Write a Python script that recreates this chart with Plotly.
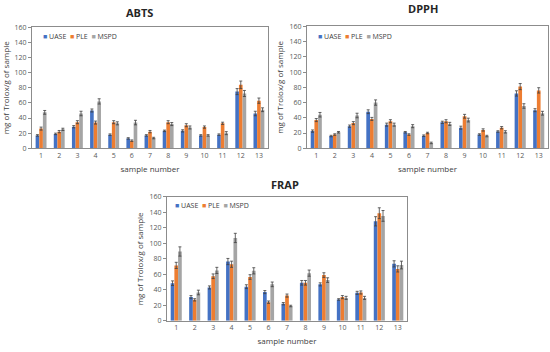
import plotly.graph_objects as go

W, H = 550, 352

samples = [str(i) for i in range(1, 14)]
series_names = ["UASE", "PLE", "MSPD"]
colors = ["#4472C4", "#ED7D31", "#A5A5A5"]
y_ticks = [0, 20, 40, 60, 80, 100, 120, 140, 160]

abts_uase = [17, 19, 28.5, 50, 18, 13, 17, 23, 23, 17, 18, 75, 46]
abts_ple = [26, 22, 34.5, 34, 34.5, 10, 22, 34.5, 30.5, 28, 33, 84, 63]
abts_mspd = [47.5, 25, 46, 62, 33, 34, 13.5, 32, 27.5, 17, 20, 72.5, 51]
abts_uase_err = [1, 1, 1.5, 2, 1, 1, 1, 1, 1.5, 1, 1, 4, 3]
abts_ple_err = [2, 1.5, 2, 2, 2, 1, 1.5, 2, 2, 1.5, 1.5, 5, 3.5]
abts_mspd_err = [2.5, 1.5, 3, 3.5, 2, 3, 1, 2, 2, 1, 2, 4, 2.5]

dpph_uase = [22.5, 16, 29, 48, 31, 21, 16.5, 34, 27, 18, 22, 72, 50]
dpph_ple = [37, 18, 33, 38.5, 35.5, 18, 20, 35.5, 42, 24, 27, 81, 76]
dpph_mspd = [44, 21, 43, 60, 31, 29, 7, 32, 37, 16, 21.5, 55.5, 46]
dpph_uase_err = [1.5, 1, 1.5, 2.5, 2, 1, 1, 1.5, 2, 1, 1, 3.5, 2]
dpph_ple_err = [2, 1, 2, 2, 2, 1, 1, 2, 2.5, 1.5, 1.5, 4, 3.5]
dpph_mspd_err = [3, 1, 3, 3.5, 2, 2, 1, 2, 2.5, 1, 1.5, 3, 2.5]

frap_uase = [48.5, 30.5, 43, 76.5, 44, 37, 22, 49, 47, 27.5, 36, 128.5, 73.5]
frap_ple = [71.5, 27, 57.5, 73, 56.5, 24, 32.5, 49, 59, 30.5, 36.5, 139, 67]
frap_mspd = [89.5, 36.5, 65, 107, 64.5, 47, 19, 61.5, 52.5, 29.5, 29.5, 135.5, 72]
frap_uase_err = [3, 2, 2, 4, 2.5, 2, 1.5, 3, 2, 1, 2, 6, 4]
frap_ple_err = [4, 1.5, 3, 4, 3, 1.5, 2, 3, 3, 2, 2, 7, 4]
frap_mspd_err = [6, 3, 4, 6, 4, 3, 1, 4, 3, 2, 2, 7, 5]

panels = [
    ("ABTS", [abts_uase, abts_ple, abts_mspd], [abts_uase_err, abts_ple_err, abts_mspd_err]),
    ("DPPH", [dpph_uase, dpph_ple, dpph_mspd], [dpph_uase_err, dpph_ple_err, dpph_mspd_err]),
    ("FRAP", [frap_uase, frap_ple, frap_mspd], [frap_uase_err, frap_ple_err, frap_mspd_err]),
]

# plot-area boxes in pixels: (left, right, top, bottom)
boxes = [(32, 268, 23, 147), (307, 548, 22, 147), (167, 407, 197, 324)]
title_pos = [(140, 8), (423, 4), (285, 184)]
legend_pos = [(41, 32), (316, 32), (173, 206)]

fig = go.Figure()
FONT = "Open Sans, Liberation Sans, sans-serif"

for i, (name, vals, errs) in enumerate(panels):
    sfx = "" if i == 0 else str(i + 1)
    for k in range(3):
        fig.add_trace(go.Bar(
            x=samples, y=vals[k], name=series_names[k],
            marker=dict(color=colors[k], line=dict(width=0)),
            error_y=dict(type="data", array=errs[k], color="#404040",
                         thickness=0.8, width=1.5),
            xaxis="x" + sfx, yaxis="y" + sfx, showlegend=False,
        ))
    l, r, t, b = boxes[i]
    xa = dict(domain=[l / W, r / W], anchor="y" + sfx, showline=True, mirror=True,
              linecolor="#8C8C8C", linewidth=1, ticks="", showgrid=False,
              tickfont=dict(size=7, color="#595959", family=FONT),
              title=dict(text="sample number", font=dict(size=8, color="#404040", family=FONT),
                         standoff=7))
    ya = dict(domain=[1 - b / H, 1 - t / H], anchor="x" + sfx, range=[0, 160],
              tickvals=y_ticks, showline=True, mirror=True, linecolor="#8C8C8C",
              linewidth=1, ticks="outside", ticklen=3, tickcolor="#8C8C8C",
              showgrid=False, zeroline=False,
              tickfont=dict(size=7, color="#595959", family=FONT),
              title=dict(text="mg of Trolox/g of sample",
                         font=dict(size=8, color="#404040", family=FONT), standoff=4))
    fig.layout["xaxis" + sfx] = xa
    fig.layout["yaxis" + sfx] = ya
    tx, ty = title_pos[i]
    fig.add_annotation(x=tx / W, y=1 - ty / H, xref="paper", yref="paper",
                       text="<b>" + name + "</b>", showarrow=False,
                       font=dict(size=11, color="#262626", family=FONT),
                       xanchor="center", yanchor="middle")
    lx, ly = legend_pos[i]
    leg_text = "  ".join(
        f"<span style='color:{colors[k]}'>■</span> {series_names[k]}" for k in range(3))
    fig.add_annotation(x=lx / W, y=1 - ly / H, xref="paper", yref="paper",
                       text=leg_text, showarrow=False,
                       font=dict(size=7, color="#404040", family=FONT),
                       xanchor="left", yanchor="middle")

fig.update_layout(
    width=W, height=H, margin=dict(l=0, r=0, t=0, b=0),
    paper_bgcolor="white", plot_bgcolor="white",
    barmode="group", bargap=0.4, bargroupgap=0.0,
    showlegend=False,
)

fig.write_html("out.html", config={"displayModeBar": False},
               post_script="document.body.style.margin='0px';document.body.style.padding='0px';")
